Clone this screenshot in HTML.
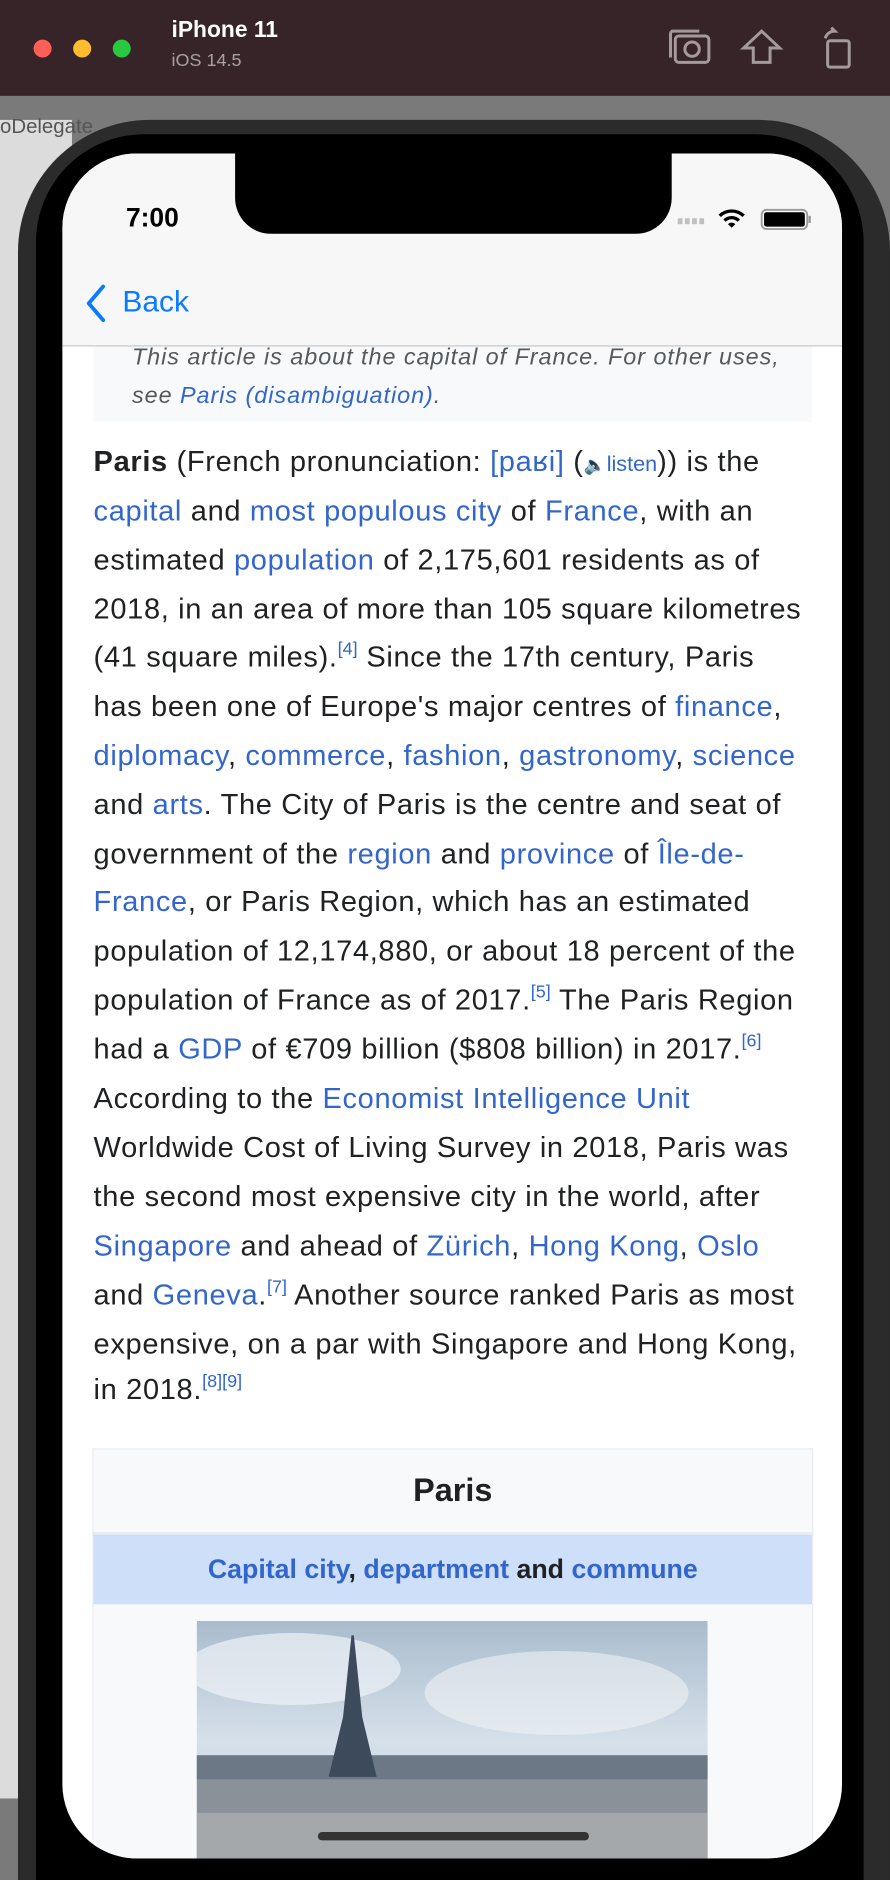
<!DOCTYPE html>
<html><head><meta charset="utf-8"><style>
html,body{margin:0;padding:0;width:890px;height:1880px;overflow:hidden;background:#e6e6e6}
#w{position:absolute;left:0;top:0;width:742px;height:1568px;transform:scale(1.19946,1.19898);transform-origin:0 0;font-family:"Liberation Sans",sans-serif;overflow:hidden}
.a{position:absolute}
.ln{position:absolute;left:78px;white-space:nowrap;font-size:24.2px;line-height:40px;color:#202122;letter-spacing:0.55px}
.ln a,.lk{color:#3366cc;text-decoration:none}
sup{font-size:15px;color:#3366cc;vertical-align:10px;line-height:0;letter-spacing:0}
</style></head><body>
<div id="w">
<div class="a" style="left:0;top:80px;width:742px;height:1488px;background:#7a7a7a"></div>
<div class="a" style="left:0;top:100px;width:60px;height:1400px;background:#dcdcdc"></div>
<div class="a" style="left:0;top:0;width:742px;height:80px;background:#362428">
 <div class="a" style="left:28px;top:33px;width:15px;height:15px;border-radius:50%;background:#fe5f57"></div>
 <div class="a" style="left:61px;top:33px;width:15px;height:15px;border-radius:50%;background:#febc2e"></div>
 <div class="a" style="left:94px;top:33px;width:15px;height:15px;border-radius:50%;background:#28c840"></div>
 <div class="a" style="left:143px;top:15px;color:#fff;font-weight:bold;font-size:19px">iPhone 11</div>
 <div class="a" style="left:143px;top:42px;color:#a8a0a2;font-size:15px">iOS 14.5</div>
 <svg class="a" style="left:555px;top:22px" width="160" height="36">
  <g fill="none" stroke="#a49a9c" stroke-width="2.5"><rect x="8" y="8" width="28" height="22" rx="3"/><path d="M4 26V6a2 2 0 0 1 2-2h22"/><circle cx="22" cy="19" r="6"/><path d="M73 30V18l-8 0 15-14 15 14h-8v12z"/><rect x="135" y="12" width="18" height="22" rx="2"/><path d="M133 10a8 8 0 0 1 8-6l-3-3"/></g></svg>
</div>
<div class="a" style="left:0;top:96px;width:150px;height:22px;color:#555;font-size:17px">oDelegate</div>
<div class="a" style="left:15px;top:100px;width:727px;height:1468px;border-radius:110px 110px 0 0;background:#2b2b2b"></div>
<div class="a" style="left:30px;top:112px;width:690px;height:1456px;border-radius:90px 90px 0 0;background:#000"></div>
<div class="a" style="left:52px;top:128px;width:650px;height:1422px;border-radius:62px;background:#fff;overflow:hidden">
 <div class="a" style="left:0;top:0;width:650px;height:160px;background:#f7f7f8;border-bottom:1px solid #c8c8c8"></div>
 <div class="a" style="left:144px;top:-10px;width:364px;height:77px;background:#000;border-radius:0 0 30px 30px"></div>
 <div class="a" style="left:53px;top:41px;font-size:22px;font-weight:bold;color:#000">7:00</div>
 <svg class="a" style="left:510px;top:44px" width="125" height="22">
  <g fill="#c0c0c0"><rect x="3" y="10" width="4" height="5"/><rect x="9" y="10" width="4" height="5"/><rect x="15" y="10" width="4" height="5"/><rect x="21" y="10" width="4" height="5"/></g>
  <path d="M37 7a16 16 0 0 1 22 0l-2 2a13 13 0 0 0-18 0zM41 11a10 10 0 0 1 14 0l-2 2a7 7 0 0 0-10 0zM45 15a4 4 0 0 1 6 0l-3 3z" fill="#000"/>
  <rect x="73" y="3" width="38" height="16" rx="4" fill="none" stroke="#999" stroke-width="1.5"/><rect x="75" y="5" width="34" height="12" rx="2" fill="#000"/><rect x="112" y="8" width="2" height="6" fill="#999"/></svg>
 <svg class="a" style="left:18px;top:108px" width="22" height="34"><path d="M16 3L4 17L16 31" fill="none" stroke="#0a7aff" stroke-width="3.2" stroke-linecap="round" stroke-linejoin="round"/></svg>
 <div class="a" style="left:50px;top:110px;color:#0a7aff;font-size:25px">Back</div>
 <div class="a" style="left:26px;top:161px;width:599px;height:63px;background:#f8f9fa">
  <div class="a" style="left:32px;top:-7px;font-size:19.5px;letter-spacing:0.8px;font-style:italic;color:#54595d;white-space:nowrap;line-height:32px">This article is about the capital of France. For other uses,<br>see <span class="lk">Paris (disambiguation)</span>.</div>
 </div>
 <div class="a" style="left:25px;top:1080px;width:599px;height:400px;background:#f8f9fa;border:1px solid #eaecf0">
  <div class="a" style="left:0;top:0;width:599px;height:69px;text-align:center;line-height:69px;font-size:27px;font-weight:bold;color:#202122">Paris</div>
  <div class="a" style="left:0;top:69px;width:599px;height:58px;background:#cedff9;border-top:2px solid #eaecf0;text-align:center;line-height:58px;font-size:22.3px;font-weight:bold;color:#202122"><span class="lk">Capital city</span>, <span class="lk">department</span> and <span class="lk">commune</span></div>
  <svg class="a" style="left:86px;top:143px" width="426" height="200">
   <defs><linearGradient id="sk" x1="0" y1="0" x2="0" y2="1"><stop offset="0" stop-color="#a9bccd"/><stop offset=".5" stop-color="#d6e0ea"/><stop offset=".75" stop-color="#c5d5e3"/></linearGradient></defs>
   <rect width="426" height="200" fill="url(#sk)"/>
   <ellipse cx="80" cy="40" rx="90" ry="30" fill="#eef2f6" opacity=".7"/><ellipse cx="300" cy="60" rx="110" ry="35" fill="#eef1f4" opacity=".6"/>
   <rect y="112" width="426" height="88" fill="#8a9199"/>
   <rect y="112" width="426" height="20" fill="#6c7886"/>
   <rect y="160" width="426" height="40" fill="#a5a8ab"/>
   <path d="M129 12L131 12L138 80L150 130L110 130L122 80Z" fill="#3d4a5c"/>
  </svg>
 </div>
</div>
<div class="a" style="left:0;top:0;width:742px;height:1200px;pointer-events:none">
<div class="ln" style="top:366px"><b>Paris</b> (French pronunciation: <a>[paʁi]</a> (<span style="font-size:15px">&#128264;</span><a style="font-size:18px;letter-spacing:0">listen</a>)) is the</div>
<div class="ln" style="top:407px"><a>capital</a> and <a>most populous city</a> of <a>France</a>, with an</div>
<div class="ln" style="top:448px">estimated <a>population</a> of 2,175,601 residents as of</div>
<div class="ln" style="top:489px">2018, in an area of more than 105 square kilometres</div>
<div class="ln" style="top:529px">(41 square miles).<sup>[4]</sup> Since the 17th century, Paris</div>
<div class="ln" style="top:570px">has been one of Europe's major centres of <a>finance</a>,</div>
<div class="ln" style="top:611px"><a>diplomacy</a>, <a>commerce</a>, <a>fashion</a>, <a>gastronomy</a>, <a>science</a></div>
<div class="ln" style="top:652px">and <a>arts</a>. The City of Paris is the centre and seat of</div>
<div class="ln" style="top:693px">government of the <a>region</a> and <a>province</a> of <a>Île-de-</a></div>
<div class="ln" style="top:733px"><a>France</a>, or Paris Region, which has an estimated</div>
<div class="ln" style="top:774px">population of 12,174,880, or about 18 percent of the</div>
<div class="ln" style="top:815px">population of France as of 2017.<sup>[5]</sup> The Paris Region</div>
<div class="ln" style="top:856px">had a <a>GDP</a> of €709 billion ($808 billion) in 2017.<sup>[6]</sup></div>
<div class="ln" style="top:897px">According to the <a>Economist Intelligence Unit</a></div>
<div class="ln" style="top:938px">Worldwide Cost of Living Survey in 2018, Paris was</div>
<div class="ln" style="top:979px">the second most expensive city in the world, after</div>
<div class="ln" style="top:1020px"><a>Singapore</a> and ahead of <a>Zürich</a>, <a>Hong Kong</a>, <a>Oslo</a></div>
<div class="ln" style="top:1061px">and <a>Geneva</a>.<sup>[7]</sup> Another source ranked Paris as most</div>
<div class="ln" style="top:1102px">expensive, on a par with Singapore and Hong Kong,</div>
<div class="ln" style="top:1140px">in 2018.<sup>[8][9]</sup></div>
</div>
<div class="a" style="left:265px;top:1528px;width:226px;height:7px;border-radius:4px;background:#333"></div>
</div>
</body></html>
